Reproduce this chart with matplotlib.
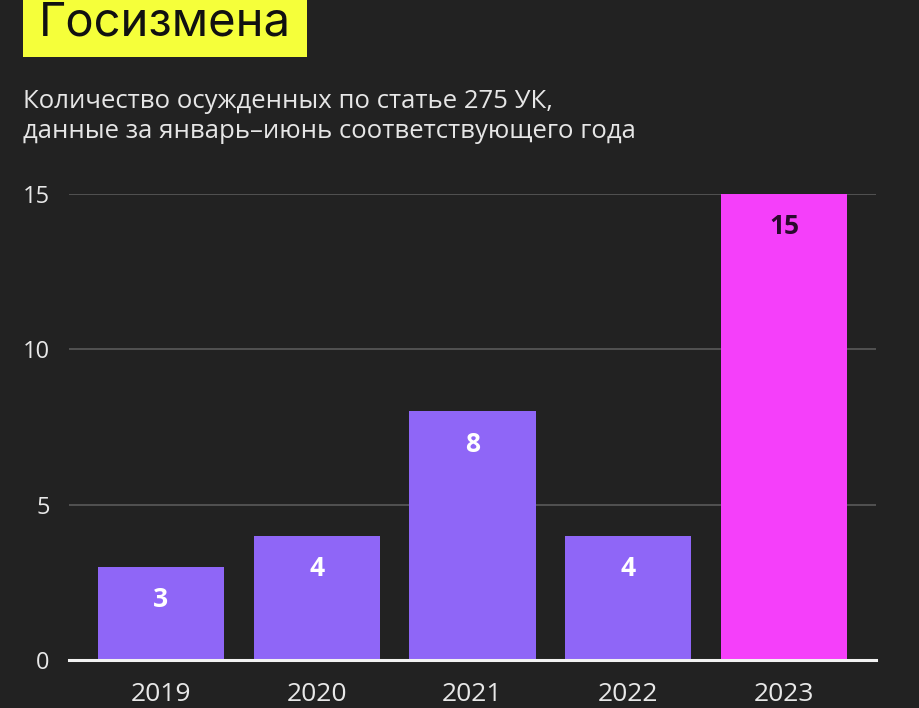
import matplotlib.pyplot as plt
from matplotlib.patches import Rectangle

years = ['2019', '2020', '2021', '2022', '2023']
convicted = [3, 4, 8, 4, 15]
bar_colors = ['#8f66f7', '#8f66f7', '#8f66f7', '#8f66f7', '#f53ffa']
label_colors = ['white', 'white', 'white', 'white', '#2a0a2e']
y_ticks = [0, 5, 10, 15]

BG = '#222222'

plt.rcParams['font.family'] = ['Open Sans', 'DejaVu Sans']

fig = plt.figure(figsize=(9.2, 7.08), dpi=100, facecolor=BG)
ax = fig.add_axes([69 / 920, 1 - 660 / 708, (876 - 69) / 920, (660 - 194) / 708])
ax.set_facecolor(BG)

x = list(range(len(years)))
bars = ax.bar(x, convicted, width=0.81, color=bar_colors, zorder=3)

# value labels just below the top of each bar
for xi, v, c in zip(x, convicted, label_colors):
    ax.text(xi, v - 1.05, str(v), ha='center', va='center', color=c,
            fontsize=19, fontweight='bold', zorder=4)

ax.set_xlim(-0.59, 4.59)
ax.set_ylim(0, 15)
ax.set_yticks(y_ticks)
ax.set_xticks(x)
ax.set_xticklabels(years)

# gridlines
for t in y_ticks[1:]:
    ax.axhline(t, color='#5a5a5a', lw=1.2, zorder=1)
ax.axhline(0, color='#f2f2f2', lw=2.2, zorder=5, clip_on=False)

for s in ax.spines.values():
    s.set_visible(False)
ax.tick_params(axis='both', length=0, colors='#e8e8e8')
ax.tick_params(axis='y', labelsize=17, pad=14)
ax.tick_params(axis='x', labelsize=19, pad=16)

# title box
fig.patches.append(Rectangle((23 / 920, 1 - 57 / 708), (307 - 23) / 920, 57 / 708,
                             transform=fig.transFigure, facecolor='#f5ff3a',
                             edgecolor='none', zorder=0))
fig.text(39 / 920, 1 - 23 / 708, 'Госизмена', fontsize=34, color='#111111',
         va='center', ha='left', family=['Inter', 'DejaVu Sans'])

fig.text(23 / 920, 1 - 101 / 708, 'Количество осужденных по статье 275 УК,',
         fontsize=18.5, color='#e6e6e6', va='center', ha='left')
fig.text(23 / 920, 1 - 131 / 708, 'данные за январь–июнь соответствующего года',
         fontsize=18.5, color='#e6e6e6', va='center', ha='left')

fig.savefig('out.png', dpi=100, facecolor=BG)
